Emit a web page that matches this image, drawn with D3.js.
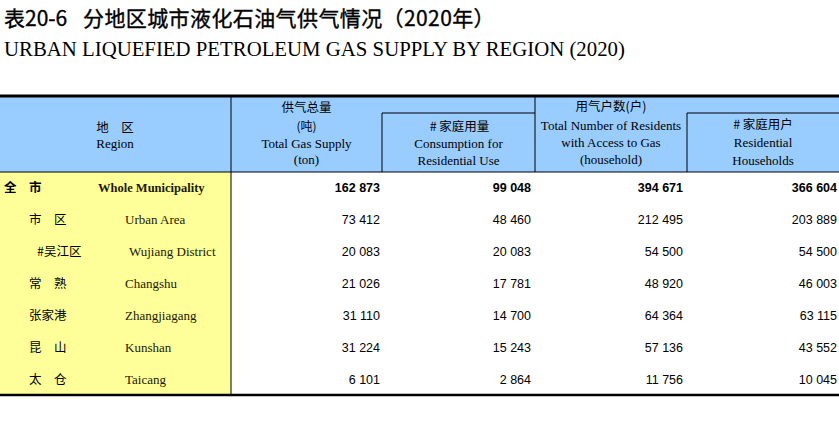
<!DOCTYPE html>
<html><head><meta charset="utf-8">
<script src="https://cdn.jsdelivr.net/npm/d3@7"></script>
<style>
html,body{margin:0;padding:0;background:#fff;}
svg{display:block;}
</style></head>
<body>
<svg id="c" width="839" height="428"></svg>
<script>
// ---- data ----
const regionsZh = ["全　市", "市　区", "#吴江区", "常　熟", "张家港", "昆　山", "太　仓"];
const regionsEn = ["Whole Municipality", "Urban Area", "Wujiang District", "Changshu", "Zhangjiagang", "Kunshan", "Taicang"];
const totalSupply = [162873, 73412, 20083, 21026, 31110, 31224, 6101];
const residentialUse = [99048, 48460, 20083, 17781, 14700, 15243, 2864];
const totalResidents = [394671, 212495, 54500, 48920, 64364, 57136, 11756];
const residentialHouseholds = [366604, 203889, 54500, 46003, 63115, 43552, 10045];
const series = [totalSupply, residentialUse, totalResidents, residentialHouseholds];

const titleZhA = "表20-6";
const titleZhB = "分地区城市液化石油气供气情况（2020年）";
const titleEn = "URBAN LIQUEFIED PETROLEUM GAS SUPPLY BY REGION (2020)";

const svg = d3.select("#c");
const CJK = "'Noto Sans CJK SC','Noto Sans',sans-serif";
const SERIF = "'Liberation Serif','DejaVu Serif',serif";
const SANS = "'Liberation Sans',Arial,sans-serif";

// titles
svg.append("text").attr("x", 4).attr("y", 26).attr("font-family", CJK).attr("font-size", 21)
  .attr("font-weight", 400).attr("fill", "#000").attr("stroke", "#000").attr("stroke-width", 0.35).text(titleZhA);
svg.append("text").attr("x", 83).attr("y", 26).attr("font-family", CJK).attr("font-size", 21)
  .attr("letter-spacing", 0.4).attr("font-weight", 400).attr("fill", "#000").attr("stroke", "#000").attr("stroke-width", 0.35).text(titleZhB);
svg.append("text").attr("x", 4).attr("y", 56).attr("font-family", SERIF).attr("font-size", 20.8)
  .attr("fill", "#000").text(titleEn);

// layout
const tTop = 96, headMid = 113, headBot = 172, tBot = 395;
const colEdges = [0, 231, 382, 535, 687, 839];
const y = d3.scaleBand().domain(d3.range(regionsZh.length)).range([headBot, tBot]).paddingInner(0);

// header background
svg.append("rect").attr("x", 0).attr("y", tTop).attr("width", 839).attr("height", headBot - tTop).attr("fill", "#99CCFF");
// region column background
svg.append("rect").attr("x", 0).attr("y", headBot).attr("width", colEdges[1]).attr("height", tBot - headBot).attr("fill", "#FFFF99");

// lines
const L = (x1, y1, x2, y2, w) => svg.append("line").attr("x1", x1).attr("y1", y1).attr("x2", x2).attr("y2", y2)
  .attr("stroke", "#000").attr("stroke-width", w);
L(colEdges[1], tTop, colEdges[1], tBot, 1);
L(colEdges[2], headMid, colEdges[2], headBot, 1);
L(colEdges[2], headMid, colEdges[3], headMid, 1);
L(colEdges[3], tTop, colEdges[3], headBot, 1);
L(colEdges[4], headMid, colEdges[4], headBot, 1);
L(colEdges[4], headMid, 839, headMid, 1);
L(0, headBot, 839, headBot, 1);
L(0, tTop, 839, tTop, 3);
L(0, tBot, 839, tBot, 2.5);

// header texts
const H = (x, yy, t, fam, size) => svg.append("text").attr("x", x).attr("y", yy).attr("text-anchor", "middle")
  .attr("font-family", fam).attr("font-size", size).attr("fill", "#000").text(t);
const cx = i => (colEdges[i] + colEdges[i + 1]) / 2;
H(115, 132, "地　区", CJK, 12.5);
H(115, 148, "Region", SERIF, 13);
H(cx(1), 112, "供气总量", CJK, 12.5);
H(cx(1), 131, "(吨)", CJK, 12);
H(cx(1), 148, "Total Gas Supply", SERIF, 13);
H(cx(1), 164, "(ton)", SERIF, 13);
H(cx(2) + 1, 131, "# 家庭用量", CJK, 12.5);
H(cx(2), 148, "Consumption for", SERIF, 13);
H(cx(2), 165, "Residential Use", SERIF, 13);
H(cx(3), 111, "用气户数(户)", CJK, 12.5);
H(cx(3), 130, "Total Number of Residents", SERIF, 13);
H(cx(3), 147, "with Access to Gas", SERIF, 13);
H(cx(3), 164, "(household)", SERIF, 13);
H(cx(4), 129, "# 家庭用户", CJK, 12.5);
H(cx(4), 147, "Residential", SERIF, 13);
H(cx(4), 165, "Households", SERIF, 13);

// body
const fmt = d3.formatLocale({decimal: ".", thousands: " ", grouping: [3], currency: ["", ""]}).format(",d");
const rows = svg.append("g").selectAll("g").data(regionsZh).join("g")
  .attr("transform", (d, i) => `translate(0,${y(i) + y.bandwidth() / 2 + 4.5})`);
const zhX = [4, 29, 37, 29, 29, 29, 29];
const enX = [98, 125, 129, 125, 125, 125, 125];
rows.append("text").attr("x", (d, i) => zhX[i]).attr("font-family", CJK).attr("font-size", 12.5)
  .attr("font-weight", (d, i) => i === 0 ? 700 : 400).attr("fill", "#000").text(d => d);
rows.append("text").attr("x", (d, i) => enX[i]).attr("font-family", SERIF).attr("font-size", (d, i) => i === 0 ? 12.5 : 13)
  .attr("font-weight", (d, i) => i === 0 ? 700 : 400).attr("fill", "#1a1a00").text((d, i) => regionsEn[i]);
const numRight = [380, 531, 683, 837];
series.forEach((s, k) => {
  rows.append("text").attr("x", numRight[k]).attr("text-anchor", "end").attr("font-family", SANS)
    .attr("font-size", 12.5).attr("font-weight", (d, i) => i === 0 ? 700 : 400).attr("fill", "#000")
    .text((d, i) => fmt(s[i]));
});
</script>
</body></html>
